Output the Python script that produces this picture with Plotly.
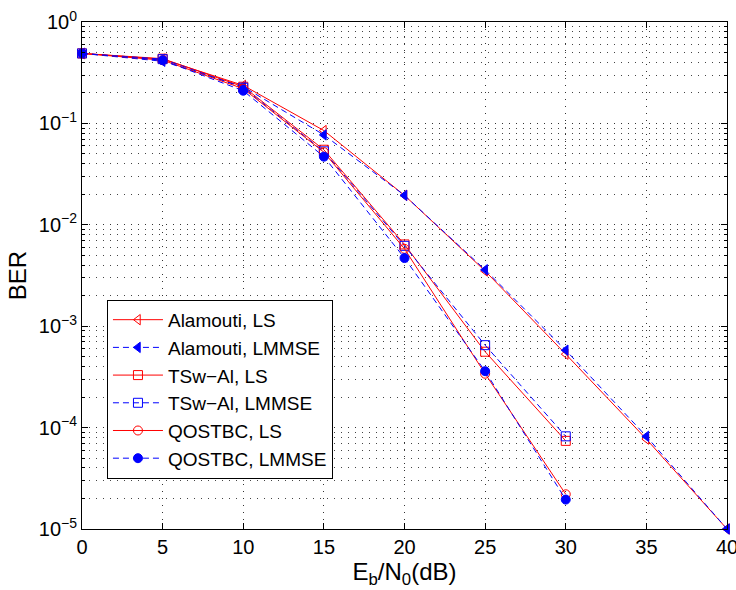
import plotly.graph_objects as go

snr_long = [0, 5, 10, 15, 20, 25, 30, 35, 40]
snr_short = [0, 5, 10, 15, 20, 25, 30]

ala_ls = [0.49, 0.43, 0.237, 0.085, 0.0195, 0.0035, 0.00053, 0.000077, 0.00001]
ala_lmmse = [0.49, 0.41, 0.23, 0.077, 0.0195, 0.0036, 0.00058, 0.000082, 0.00001]
tsw_ls = [0.49, 0.435, 0.23, 0.055, 0.0064, 0.00056, 0.000074]
tsw_lmmse = [0.49, 0.43, 0.225, 0.053, 0.0062, 0.00065, 0.000082]
qo_ls = [0.49, 0.42, 0.22, 0.052, 0.0058, 0.00034, 0.000022]
qo_lmmse = [0.49, 0.42, 0.21, 0.047, 0.0047, 0.00036, 0.0000195]

series = [
    ("Alamouti, LS", snr_long, ala_ls, "#FF0000", "solid", "triangle-left-open"),
    ("Alamouti, LMMSE", snr_long, ala_lmmse, "#0000FF", "6px,4px", "triangle-left"),
    ("TSw\u2212Al, LS", snr_short, tsw_ls, "#FF0000", "solid", "square-open"),
    ("TSw\u2212Al, LMMSE", snr_short, tsw_lmmse, "#0000FF", "6px,4px", "square-open"),
    ("QOSTBC, LS", snr_short, qo_ls, "#FF0000", "solid", "circle-open"),
    ("QOSTBC, LMMSE", snr_short, qo_lmmse, "#0000FF", "6px,4px", "circle"),
]

fig = go.Figure()
for name, x, y, col, dash, sym in series:
    fig.add_trace(go.Scatter(
        x=x, y=y, name=name, mode="lines+markers",
        line=dict(color=col, width=1, dash=dash),
        marker=dict(symbol=sym, size=9, color=col, line=dict(color=col, width=1)),
        cliponaxis=False,
    ))

ytickvals = [1e-5, 1e-4, 1e-3, 1e-2, 1e-1, 1]
yticktext = ["10<sup>\u22125</sup>", "10<sup>\u22124</sup>", "10<sup>\u22123</sup>",
             "10<sup>\u22122</sup>", "10<sup>\u22121</sup>", "10<sup>0</sup>"]
minor_vals = [m * 10 ** e for e in range(-5, 0) for m in range(2, 10)]

font = "Liberation Sans, Arial, Helvetica, sans-serif"
griddash = "1px,6px"
fig.update_layout(
    width=736, height=590,
    margin=dict(l=82, r=8, t=18, b=61),
    paper_bgcolor="white", plot_bgcolor="white",
    font=dict(family=font, size=20, color="black"),
    showlegend=True,
    legend=dict(
        x=0.0387, y=0.452, xanchor="left", yanchor="top",
        bgcolor="white", bordercolor="black", borderwidth=1,
        font=dict(size=19), tracegroupgap=0, itemwidth=50,
    ),
    xaxis=dict(
        range=[0, 40], tickvals=[0, 5, 10, 15, 20, 25, 30, 35, 40],
        showline=True, linecolor="black", linewidth=1, mirror="ticks",
        ticks="inside", ticklen=6, tickcolor="black",
        showgrid=True, gridcolor="#333333", griddash=griddash, gridwidth=1,
        zeroline=False, ticklabeloverflow="allow", automargin=False,
        title=dict(text="E<sub>b</sub>/N<sub>0</sub>(dB)", standoff=0),
    ),
    yaxis=dict(
        type="log", range=[-5, 0],
        tickvals=ytickvals, ticktext=yticktext,
        showline=True, linecolor="black", linewidth=1, mirror="ticks",
        ticks="inside", ticklen=6, tickcolor="black",
        showgrid=True, gridcolor="#333333", griddash=griddash, gridwidth=1,
        zeroline=False,
        minor=dict(tickvals=minor_vals, ticks="inside", ticklen=3, tickcolor="black",
                   showgrid=True, gridcolor="#444444", griddash=griddash, gridwidth=1),
        title=dict(text="BER", standoff=5),
    ),
)

fig.write_html("out.html")
